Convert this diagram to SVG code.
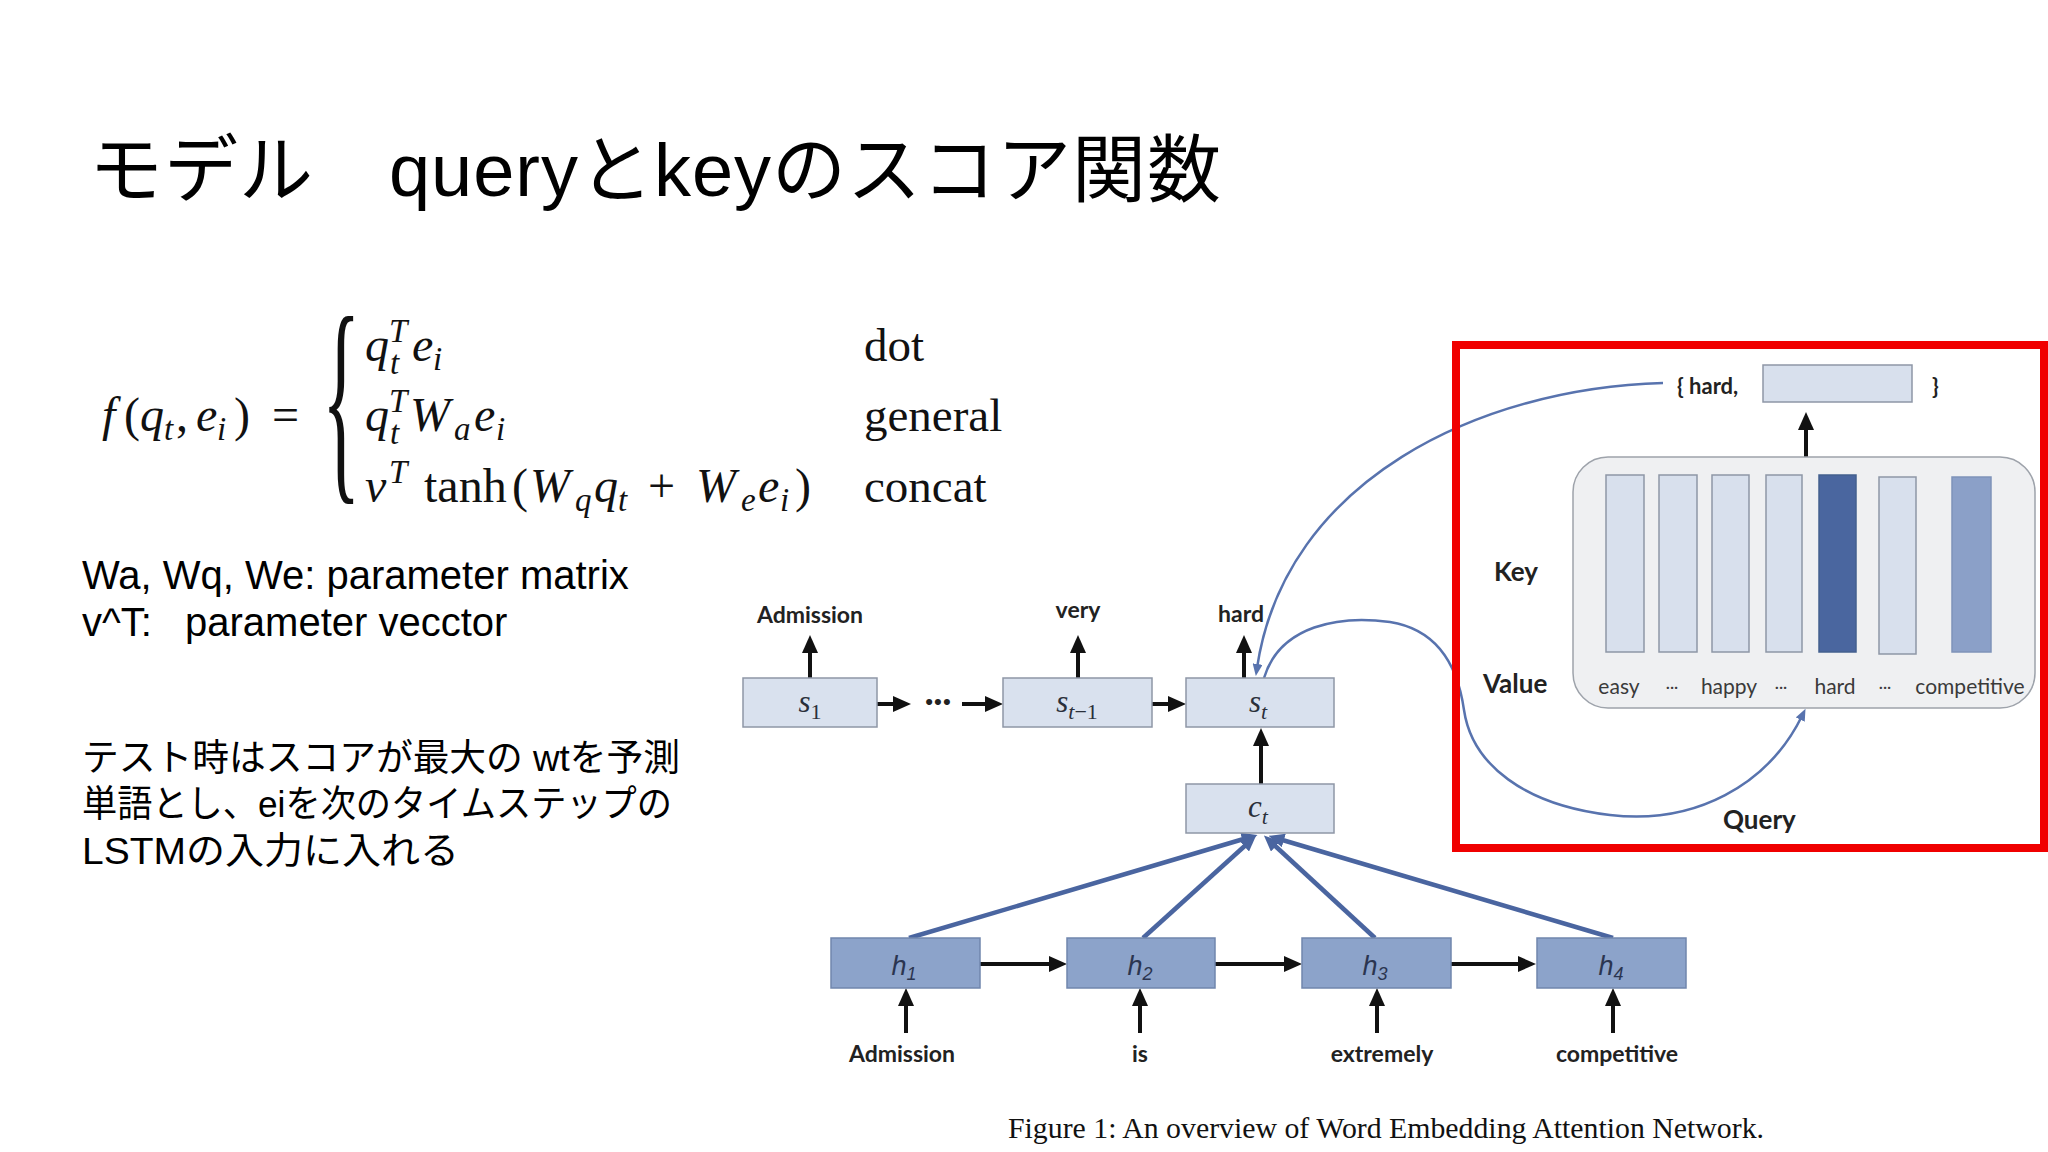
<svg xmlns="http://www.w3.org/2000/svg" width="2048" height="1152" viewBox="0 0 2048 1152">
<defs>
<style>
.t{font-family:"Liberation Sans","Noto Sans CJK JP",sans-serif;fill:#000}
.mi{font-family:"Liberation Serif",serif;font-style:italic;fill:#111}
.mr{font-family:"Liberation Serif",serif;font-style:normal;fill:#111}
.lb{font-family:Lato,"Liberation Sans",sans-serif;font-weight:bold;fill:#222}
.lr{font-family:Lato,"Liberation Sans",sans-serif;fill:#3a3a3a}
.bm{font-family:"Liberation Serif",serif;font-style:italic;fill:#2a2f3a;font-size:31px}
.hm{font-family:"Liberation Sans",sans-serif;font-style:italic;fill:#2b3550;font-size:27px}
.sbox{fill:#d9e1ee;stroke:#8e97a6;stroke-width:1.5}
.hbox{fill:#8ca3ca;stroke:#7086ad;stroke-width:1.5}
.lbar{fill:#d8e0ed;stroke:#8e97a6;stroke-width:1.5}
.blk{stroke:#111;stroke-width:4;fill:none;marker-end:url(#ab)}
.att{stroke:#4a65a0;stroke-width:4.5;fill:none;marker-end:url(#au)}
.crv{stroke:#5873ae;stroke-width:2.5;fill:none}
</style>
<marker id="ab" markerUnits="userSpaceOnUse" markerWidth="18" markerHeight="16" refX="6" refY="8" orient="auto"><path d="M0,0 L18,8 L0,16 z" fill="#111"/></marker>
<marker id="au" markerUnits="userSpaceOnUse" markerWidth="16" markerHeight="14" refX="5" refY="7" orient="auto"><path d="M0,0 L16,7 L0,14 z" fill="#4a65a0"/></marker>
<marker id="ac" markerUnits="userSpaceOnUse" markerWidth="12" markerHeight="10" refX="4" refY="5" orient="auto"><path d="M0,0 L12,5 L0,10 z" fill="#5873ae"/></marker>
</defs>
<rect width="2048" height="1152" fill="#fff"/>

<g id="title">
<text class="t" x="89" y="196" font-size="74" textLength="1132" lengthAdjust="spacing">モデル　queryとkeyのスコア関数</text>
</g>

<g id="formula">
<text class="mi" font-size="48" y="431"><tspan x="102">f</tspan><tspan class="mr" x="124">(</tspan><tspan x="140">q</tspan><tspan x="164" y="440" font-size="33">t</tspan><tspan class="mr" x="176" y="431">,</tspan><tspan x="196">e</tspan><tspan x="217" y="440" font-size="33">i</tspan><tspan class="mr" x="234" y="431">)</tspan><tspan class="mr" x="272">=</tspan></text>
<text class="mr" font-size="80" transform="translate(322,474) scale(1,2.84)">{</text>
<text class="mi" font-size="48" y="361"><tspan x="365">q</tspan><tspan x="389" y="342" font-size="33">T</tspan><tspan x="390" y="374" font-size="33">t</tspan><tspan x="412" y="361">e</tspan><tspan x="433" y="370" font-size="33">i</tspan></text>
<text class="mi" font-size="48" y="431"><tspan x="365">q</tspan><tspan x="389" y="412" font-size="33">T</tspan><tspan x="390" y="444" font-size="33">t</tspan><tspan x="410" y="431">W</tspan><tspan x="454" y="440" font-size="33">a</tspan><tspan x="474" y="431">e</tspan><tspan x="496" y="440" font-size="33">i</tspan></text>
<text class="mi" font-size="48" y="502"><tspan x="365">v</tspan><tspan x="389" y="483" font-size="33">T</tspan><tspan class="mr" x="424" y="502">tanh</tspan><tspan class="mr" x="512">(</tspan><tspan x="530">W</tspan><tspan x="575" y="511" font-size="33">q</tspan><tspan x="594" y="502">q</tspan><tspan x="618" y="511" font-size="33">t</tspan><tspan class="mr" x="648" y="502">+</tspan><tspan x="696">W</tspan><tspan x="741" y="511" font-size="33">e</tspan><tspan x="758" y="502">e</tspan><tspan x="780" y="511" font-size="33">i</tspan><tspan class="mr" x="795" y="502">)</tspan></text>
<text class="mr" font-size="47" x="864" y="361">dot</text>
<text class="mr" font-size="47" x="864" y="431">general</text>
<text class="mr" font-size="47" x="864" y="502">concat</text>
</g>

<g id="notes">
<text class="t" x="82" y="589" font-size="40">Wa, Wq, We: parameter matrix</text>
<text class="t" y="636" font-size="40"><tspan x="82">v^T:</tspan><tspan x="185">parameter vecctor</tspan></text>
<text class="t" x="82" y="771" font-size="37" textLength="598" lengthAdjust="spacingAndGlyphs">テスト時はスコアが最大の wtを予測</text>
<text class="t" x="82" y="817" font-size="37" textLength="590" lengthAdjust="spacingAndGlyphs">単語とし、eiを次のタイムステップの</text>
<text class="t" x="82" y="864" font-size="37" textLength="377" lengthAdjust="spacingAndGlyphs">LSTMの入力に入れる</text>
</g>

<g id="connectors">
<line class="blk" x1="810" y1="678" x2="810" y2="647"/>
<line class="blk" x1="1078" y1="678" x2="1078" y2="647"/>
<line class="blk" x1="1244" y1="678" x2="1244" y2="647"/>
<line class="blk" x1="877" y1="704" x2="899" y2="704"/>
<line class="blk" x1="962" y1="704" x2="991" y2="704"/>
<line class="blk" x1="1152" y1="704" x2="1174" y2="704"/>
<line class="blk" x1="1261" y1="784" x2="1261" y2="740"/>
<line class="blk" x1="980" y1="964" x2="1055" y2="964"/>
<line class="blk" x1="1215" y1="964" x2="1290" y2="964"/>
<line class="blk" x1="1451" y1="964" x2="1524" y2="964"/>
<line class="blk" x1="906" y1="1033" x2="906" y2="1000"/>
<line class="blk" x1="1140" y1="1033" x2="1140" y2="1000"/>
<line class="blk" x1="1377" y1="1033" x2="1377" y2="1000"/>
<line class="blk" x1="1613" y1="1033" x2="1613" y2="1000"/>
<line class="att" x1="909" y1="938" x2="1247" y2="838"/>
<line class="att" x1="1143" y1="938" x2="1248" y2="843"/>
<line class="att" x1="1375" y1="938" x2="1272" y2="843"/>
<line class="att" x1="1613" y1="938" x2="1279" y2="839"/>
<line class="blk" x1="1806" y1="457" x2="1806" y2="424"/>
<path class="crv" marker-end="url(#ac)" d="M1663,383 C1480,388 1285,480 1257,668"/>
<path class="crv" marker-end="url(#ac)" d="M1264,678 C1280,625 1340,615 1390,622 C1440,630 1458,668 1464,710 C1472,765 1525,805 1610,815 C1695,825 1768,785 1802,716"/>
</g>

<g id="s1">
<rect class="sbox" x="743" y="678" width="134" height="49"/>
<text class="bm" x="810" y="712" text-anchor="middle">s<tspan dy="7" font-size="22" font-style="normal">1</tspan></text>
<text class="lb" x="810" y="623" font-size="23" text-anchor="middle">Admission</text>
</g>
<g id="dots"><text class="lb" x="938" y="712" font-size="32" text-anchor="middle">···</text></g>
<g id="st-1">
<rect class="sbox" x="1003" y="678" width="149" height="49"/>
<text class="bm" x="1077" y="712" text-anchor="middle">s<tspan dy="7" font-size="22">t</tspan><tspan font-size="22" font-style="normal">−1</tspan></text>
<text class="lb" x="1078" y="618" font-size="23" text-anchor="middle">very</text>
</g>
<g id="st">
<rect class="sbox" x="1186" y="678" width="148" height="49"/>
<text class="bm" x="1258" y="712" text-anchor="middle">s<tspan dy="7" font-size="22">t</tspan></text>
<text class="lb" x="1241" y="622" font-size="23" text-anchor="middle">hard</text>
</g>
<g id="ct">
<rect class="sbox" x="1186" y="784" width="148" height="49"/>
<text class="bm" x="1258" y="817" text-anchor="middle">c<tspan dy="7" font-size="22">t</tspan></text>
</g>
<g id="h1">
<rect class="hbox" x="831" y="938" width="149" height="50"/>
<text class="hm" x="904" y="975" text-anchor="middle">h<tspan dy="5" font-size="18">1</tspan></text>
<text class="lb" x="902" y="1062" font-size="23" text-anchor="middle">Admission</text>
</g>
<g id="h2">
<rect class="hbox" x="1067" y="938" width="148" height="50"/>
<text class="hm" x="1140" y="975" text-anchor="middle">h<tspan dy="5" font-size="18">2</tspan></text>
<text class="lb" x="1140" y="1062" font-size="23" text-anchor="middle">is</text>
</g>
<g id="h3">
<rect class="hbox" x="1302" y="938" width="149" height="50"/>
<text class="hm" x="1375" y="975" text-anchor="middle">h<tspan dy="5" font-size="18">3</tspan></text>
<text class="lb" x="1382" y="1062" font-size="23" text-anchor="middle">extremely</text>
</g>
<g id="h4">
<rect class="hbox" x="1537" y="938" width="149" height="50"/>
<text class="hm" x="1611" y="975" text-anchor="middle">h<tspan dy="5" font-size="18">4</tspan></text>
<text class="lb" x="1617" y="1062" font-size="23" text-anchor="middle">competitive</text>
</g>

<g id="memory">
<rect x="1573" y="457" width="462" height="251" rx="35" fill="#eff0f2" stroke="#9ea3ab" stroke-width="1.5"/>
<rect class="lbar" x="1606" y="475" width="38" height="177"/>
<rect class="lbar" x="1659" y="475" width="38" height="177"/>
<rect class="lbar" x="1712" y="475" width="37" height="177"/>
<rect class="lbar" x="1766" y="475" width="36" height="177"/>
<rect x="1819" y="475" width="37" height="177" fill="#4a669f" stroke="#44608f" stroke-width="1.5"/>
<rect class="lbar" x="1879" y="477" width="37" height="177"/>
<rect x="1952" y="477" width="39" height="175" fill="#8ba0c8" stroke="#7f93b9" stroke-width="1.5"/>
<text class="lr" x="1619" y="694" font-size="21" text-anchor="middle">easy</text>
<text class="lr" x="1672" y="692" font-size="16" text-anchor="middle">···</text>
<text class="lr" x="1729" y="694" font-size="21" text-anchor="middle">happy</text>
<text class="lr" x="1781" y="692" font-size="16" text-anchor="middle">···</text>
<text class="lr" x="1835" y="694" font-size="21" text-anchor="middle">hard</text>
<text class="lr" x="1885" y="692" font-size="16" text-anchor="middle">···</text>
<text class="lr" x="1970" y="694" font-size="21" text-anchor="middle">competitive</text>
<text class="lb" x="1494" y="581" font-size="26">Key</text>
<text class="lb" x="1483" y="693" font-size="26">Value</text>
<text class="lb" x="1723" y="829" font-size="26">Query</text>
</g>
<g id="output">
<text class="lb" x="1677" y="394" font-size="22">{ hard,</text>
<rect class="lbar" x="1763" y="365" width="149" height="37"/>
<text class="lb" x="1932" y="394" font-size="22">}</text>
</g>
<g id="highlight"><rect x="1456" y="345" width="588" height="503" fill="none" stroke="#f00000" stroke-width="8"/></g>
<g id="caption"><text class="mr" x="1008" y="1138" font-size="29" textLength="756" lengthAdjust="spacingAndGlyphs">Figure 1: An overview of Word Embedding Attention Network.</text></g>
</svg>
